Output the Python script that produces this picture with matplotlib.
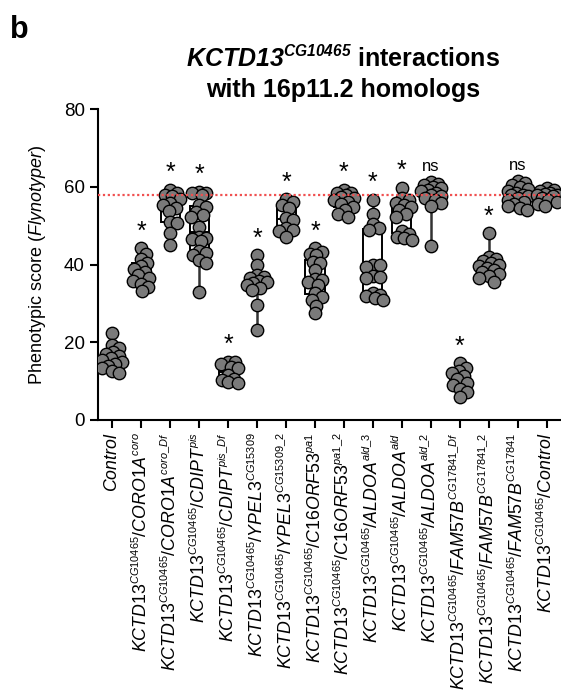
import numpy as np
import matplotlib
matplotlib.use("Agg")
import matplotlib.pyplot as plt
import matplotlib._mathtext as _mt

_mt.SHRINK_FACTOR = 0.62

plt.rcParams['font.family'] = ['Liberation Sans', 'DejaVu Sans']
plt.rcParams['mathtext.fontset'] = 'custom'
plt.rcParams['mathtext.it'] = 'Liberation Sans:italic'
plt.rcParams['mathtext.rm'] = 'Liberation Sans'
plt.rcParams['mathtext.bf'] = 'Liberation Sans:bold:italic'

# ---------------- data ----------------
tick_labels = [
    r'$\mathit{Control}$',
    r'$\mathit{KCTD13}^{\mathit{CG10465}}\mathit{/CORO1A}^{\mathit{coro}}$',
    r'$\mathit{KCTD13}^{\mathit{CG10465}}\mathit{/CORO1A}^{\mathit{coro\_Df}}$',
    r'$\mathit{KCTD13}^{\mathit{CG10465}}\mathit{/CDIPT}^{\mathit{pis}}$',
    r'$\mathit{KCTD13}^{\mathit{CG10465}}\mathit{/CDIPT}^{\mathit{pis\_Df}}$',
    r'$\mathit{KCTD13}^{\mathit{CG10465}}\mathit{/YPEL3}^{\mathit{CG15309}}$',
    r'$\mathit{KCTD13}^{\mathit{CG10465}}\mathit{/YPEL3}^{\mathit{CG15309\_2}}$',
    r'$\mathit{KCTD13}^{\mathit{CG10465}}\mathit{/C16ORF53}^{\mathit{pa1}}$',
    r'$\mathit{KCTD13}^{\mathit{CG10465}}\mathit{/C16ORF53}^{\mathit{pa1\_2}}$',
    r'$\mathit{KCTD13}^{\mathit{CG10465}}\mathit{/ALDOA}^{\mathit{ald\_3}}$',
    r'$\mathit{KCTD13}^{\mathit{CG10465}}\mathit{/ALDOA}^{\mathit{ald}}$',
    r'$\mathit{KCTD13}^{\mathit{CG10465}}\mathit{/ALDOA}^{\mathit{ald\_2}}$',
    r'$\mathit{KCTD13}^{\mathit{CG10465}}\mathit{/FAM57B}^{\mathit{CG17841\_Df}}$',
    r'$\mathit{KCTD13}^{\mathit{CG10465}}\mathit{/FAM57B}^{\mathit{CG17841\_2}}$',
    r'$\mathit{KCTD13}^{\mathit{CG10465}}\mathit{/FAM57B}^{\mathit{CG17841}}$',
    r'$\mathit{KCTD13}^{\mathit{CG10465}}\mathit{/Control}$',
]

control = [22.3, 19.3, 18.5, 17.5, 17, 16.5, 16, 15.5, 15, 14.5, 14, 13.5, 12.5, 12.2]
coro = [44.2, 42.8, 41.5, 40.5, 39.5, 38.8, 38, 37.2, 36.5, 35.8, 35, 34.3, 33.2]
coro_df = [59.2, 58.5, 57.8, 57.5, 56.8, 55.7, 55.3, 54.5, 53.8, 51, 50.6, 48.2, 45]
pis = [58.7, 58.5, 58.3, 57.9, 55.3, 54.9, 53.6, 52.7, 52.3, 49.7, 47.2, 46.7,
       46.5, 46, 43.5, 42.9, 42.5, 41.2, 40.3, 33]
pis_df = [15, 14.8, 14.5, 13.7, 13.3, 11.5, 10.5, 10.3, 9.9, 9.4]
ypel3 = [42.4, 39.9, 37.3, 36.9, 36.4, 35.8, 35.6, 35.2, 34.7, 34, 33.4, 29.6, 23.2]
ypel3_2 = [56.8, 56.2, 55.3, 54.5, 52, 51.5, 49.3, 48.9, 48.5, 47.2]
pa1 = [44.2, 43.3, 42.8, 42.4, 40.7, 40.3, 38.5, 36.2, 36, 35.5, 34.7, 32.6, 31.7,
       30.9, 29.3, 27.4]
pa1_2 = [59.2, 58.5, 58.3, 57.8, 57.4, 57, 56.5, 56.2, 55.5, 54.9, 54, 53.1, 52.3]
ald_3 = [56.6, 53, 50.5, 49.5, 48.9, 40, 39.9, 39.4, 37, 36.9, 36.4, 32.6, 32.2,
         31.8, 31.3, 30.9]
ald = [59.8, 57, 56.6, 55.8, 55.3, 54.8, 54, 53.1, 52.3, 48.5, 47.8, 47.2, 46.8, 46.3]
ald_2 = [61.2, 60.8, 60.5, 60, 59.8, 59.2, 58.8, 58.5, 58, 57.5, 57, 56.5, 55.8, 55, 44.8]
fam_df = [14.6, 13.5, 12.6, 12, 11.2, 10.5, 9.5, 9, 8, 7.3, 6]
fam_2 = [48, 42, 41.5, 41, 40.5, 40, 39.5, 39, 38.5, 38, 37.5, 37, 36.5, 35.6]
fam = [61.5, 61, 60.5, 60, 59.5, 59, 58.5, 58, 57.8, 57.5, 57, 56.5, 56, 55.5, 55,
       54.5, 54]
kctd_control = [59.6, 59.2, 58.8, 58.5, 58.2, 58, 57.8, 57.5, 57, 56.5, 56, 55.5, 55]

groups = [control, coro, coro_df, pis, pis_df, ypel3, ypel3_2, pa1, pa1_2,
          ald_3, ald, ald_2, fam_df, fam_2, fam, kctd_control]
significance = ['', '*', '*', '*', '*', '*', '*', '*', '*', '*', '*', 'ns', '*', '*', 'ns', '']
reference_line = 58

# ---------------- figure ----------------
W, H = 561, 691
fig = plt.figure(figsize=(W / 100, H / 100), dpi=100)
ax = fig.add_axes([98 / W, 1 - 420 / H, (W - 98) / W, (420 - 109) / H])

pos = np.arange(len(groups))
ax.set_xlim(-0.5, len(groups) - 0.5)
ax.set_ylim(0, 80)

bp = ax.boxplot(groups, positions=pos, widths=0.66, whis=(0, 100), showcaps=False,
                showfliers=False, patch_artist=True, zorder=2)
for b in bp['boxes']:
    b.set(facecolor='white', edgecolor='black', linewidth=1.4)
for w in bp['whiskers']:
    w.set(color='#333333', linewidth=1.8)
for m in bp['medians']:
    m.set(color='black', linewidth=1.4)

# deterministic beeswarm-like offsets (in pixels)
px_per_x = (W - 98) / len(groups)
px_per_y = (420 - 109) / 80.0


def swarm(vals, mind=7.0, maxoff=10):
    order = np.argsort(vals)[::-1]
    placed = []
    offs = np.zeros(len(vals))
    cands = [0]
    for k in range(1, maxoff + 1):
        cands += [k, -k]
    for i in order:
        y = vals[i] * px_per_y
        best, bestd = 0, -1
        for c in cands:
            d = min([np.hypot(c - px, y - py) for px, py in placed] + [1e9])
            if d >= mind:
                best = c
                bestd = d
                break
            if d > bestd:
                best, bestd = c, d
        offs[i] = best
        placed.append((best, y))
    return offs / px_per_x


for i, g in enumerate(groups):
    g = np.array(g, dtype=float)
    xo = swarm(g)
    ax.scatter(pos[i] + xo, g, s=80, facecolor='#7a7a7a', edgecolor='black',
               linewidth=1.0, zorder=3)
    lab = significance[i]
    if lab == '*':
        ax.text(pos[i], g.max() + 1.2, '*', ha='center', va='bottom', fontsize=18,
                zorder=5)
    elif lab == 'ns':
        ax.text(pos[i], g.max() + 2.0, 'ns', ha='center', va='bottom', fontsize=12,
                zorder=5)

ax.axhline(reference_line, color='#f05050', linestyle=(0, (1, 1.2)), linewidth=1.6,
           zorder=4)

ax.spines['top'].set_visible(False)
ax.spines['right'].set_visible(False)
for s in ['left', 'bottom']:
    ax.spines[s].set_linewidth(1.5)
ax.set_yticks([0, 20, 40, 60, 80])
ax.tick_params(axis='both', width=1.5, length=6, labelsize=13.5, color='black')
ax.set_xticks(pos)
ax.set_xticklabels(tick_labels, rotation=90, fontsize=12.8)
ax.tick_params(axis='x', pad=3)
ax.set_ylabel(r'Phenotypic score ($\mathit{Flynotyper}$)', fontsize=13)
ax.yaxis.set_label_coords(-0.108, 0.5)

fig.text(343 / W, 1 - 67 / H, r'$\mathbf{KCTD13}^{\mathbf{CG10465}}$ interactions',
         ha='center', va='baseline', fontsize=18, fontweight='bold')
fig.text(343 / W, 1 - 97 / H, 'with 16p11.2 homologs', ha='center', va='baseline',
         fontsize=18, fontweight='bold')
fig.text(10 / W, 1 - 38 / H, 'b', ha='left', va='baseline', fontsize=22,
         fontweight='bold')

fig.savefig('out.png', dpi=100)
